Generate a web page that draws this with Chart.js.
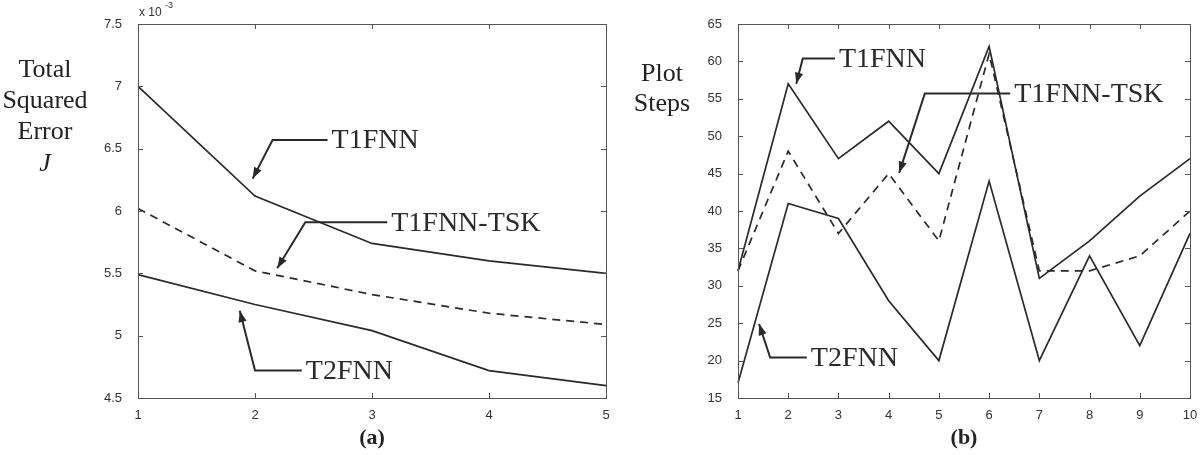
<!DOCTYPE html>
<html>
<head>
<meta charset="utf-8">
<script src="https://cdn.jsdelivr.net/npm/chart.js@4.4.1/dist/chart.umd.min.js"></script>
<style>
  body { margin: 0; background: #fff; width: 1204px; height: 455px; overflow: hidden; }
  .box { position: absolute; top: 0; height: 455px; }
  #boxA { left: 0; width: 620px; }
  #boxB { left: 620px; width: 584px; }
</style>
</head>
<body>
<div class="box" id="boxA"><canvas id="chartA"></canvas></div>
<div class="box" id="boxB"><canvas id="chartB"></canvas></div>
<script>
// (a) total squared error, values in units of 1e-3
const epochsA = ["1", "2", "3", "4", "5"];
const t1fnnA = [7.0, 6.12, 5.74, 5.6, 5.5];
const tskA = [6.02, 5.52, 5.33, 5.18, 5.09];
const t2fnnA = [5.49, 5.25, 5.04, 4.72, 4.6];

// (b) plot steps
const runsB = ["1", "2", "3", "4", "5", "6", "7", "8", "9", "10"];
const t1fnnB = [32, 57, 47, 52, 45, 62, 31, 36, 42, 47];
const tskB = [32, 48, 37, 45, 36, 61, 32, 32, 34, 40];
const t2fnnB = [17, 41, 39, 28, 20, 44, 20, 34, 22, 37];

const LINE = "#2a2a2a";
const SERIF = "'Liberation Serif', 'DejaVu Serif', serif";
const SANS = "'Liberation Sans', Arial, sans-serif";

// callouts: text + polyline (data coords: category index, value), last point gets arrowhead
const notesA = [
  { text: "T1FNN", path: [[1.62, 6.57], [1.15, 6.57], [0.98, 6.26]] },
  { text: "T1FNN-TSK", path: [[2.13, 5.91], [1.43, 5.91], [1.19, 5.54]] },
  { text: "T2FNN", path: [[1.40, 4.72], [1.0, 4.72], [0.87, 5.2]] }
];
const notesB = [
  { text: "T1FNN", path: [[1.93, 60.4], [1.29, 60.4], [1.16, 57.0]] },
  { text: "T1FNN-TSK", path: [[5.42, 55.7], [3.72, 55.7], [3.21, 45.1]] },
  { text: "T2FNN", path: [[1.37, 20.4], [0.64, 20.4], [0.42, 24.9]] }
];

const frame = {
  id: "frame",
  afterDatasetsDraw(chart, args, opts) {
    const { ctx, chartArea: a, scales: { x, y } } = chart;
    ctx.save();
    ctx.strokeStyle = "#555";
    ctx.lineWidth = 1;
    ctx.strokeRect(a.left + 0.5, a.top + 0.5, a.right - a.left, a.bottom - a.top);
    ctx.beginPath();
    x.ticks.forEach((t, i) => {
      const px = Math.round(x.getPixelForTick(i)) + 0.5;
      ctx.moveTo(px, a.bottom); ctx.lineTo(px, a.bottom - 5);
      ctx.moveTo(px, a.top); ctx.lineTo(px, a.top + 5);
    });
    y.ticks.forEach(t => {
      const py = Math.round(y.getPixelForValue(t.value)) + 0.5;
      ctx.moveTo(a.left, py); ctx.lineTo(a.left + 5, py);
      ctx.moveTo(a.right, py); ctx.lineTo(a.right - 5, py);
    });
    ctx.stroke();

    // callouts
    ctx.strokeStyle = LINE;
    ctx.fillStyle = LINE;
    ctx.lineWidth = 2;
    opts.notes.forEach(n => {
      const pts = n.path.map(p => [x.getPixelForValue(p[0]), y.getPixelForValue(p[1])]);
      ctx.beginPath();
      pts.forEach((p, i) => i ? ctx.lineTo(p[0], p[1]) : ctx.moveTo(p[0], p[1]));
      ctx.stroke();
      const tip = pts[pts.length - 1], prev = pts[pts.length - 2];
      const ang = Math.atan2(tip[1] - prev[1], tip[0] - prev[0]);
      ctx.beginPath();
      ctx.moveTo(tip[0], tip[1]);
      ctx.lineTo(tip[0] - 12 * Math.cos(ang - 0.35), tip[1] - 12 * Math.sin(ang - 0.35));
      ctx.lineTo(tip[0] - 12 * Math.cos(ang + 0.35), tip[1] - 12 * Math.sin(ang + 0.35));
      ctx.closePath();
      ctx.fill();
      ctx.font = "28px " + SERIF;
      ctx.textBaseline = "middle";
      ctx.textAlign = "left";
      ctx.fillText(n.text, pts[0][0] + 4, pts[0][1] + 1);
    });

    // axis title lines, sub label, exponent
    ctx.fillStyle = "#222";
    ctx.textAlign = "center";
    opts.title.forEach(t => {
      ctx.font = (t.italic ? "italic " : "") + "26px " + SERIF;
      ctx.fillText(t.text, t.x, t.y);
    });
    ctx.font = "bold 22px " + SERIF;
    ctx.fillText(opts.caption, (a.left + a.right) / 2, 438);
    if (opts.exponent) {
      ctx.font = "12px " + SANS;
      ctx.fillStyle = "#333";
      ctx.textAlign = "left";
      ctx.fillText("x 10", a.left + 1, a.top - 11);
      ctx.font = "9px " + SANS;
      ctx.fillText("-3", a.left + 27, a.top - 18);
    }
    ctx.restore();
  }
};

function series(data, dashed) {
  return {
    data: data,
    borderColor: LINE,
    borderWidth: 1.7,
    borderDash: dashed ? [8, 6] : [],
    pointRadius: 0,
    tension: 0,
    fill: false
  };
}

function makeChart(id, labels, sets, yMin, yMax, step, tickFmt, plotOpts) {
  return new Chart(document.getElementById(id), {
    type: "line",
    data: { labels: labels, datasets: sets },
    plugins: [frame],
    options: {
      responsive: true,
      maintainAspectRatio: false,
      animation: false,
      layout: { padding: { top: 24, right: 14, left: 0, bottom: 0 } },
      plugins: { legend: { display: false }, tooltip: { enabled: false }, frame: plotOpts },
      scales: {
        x: {
          type: "category",
          offset: false,
          grid: { display: false },
          border: { display: false },
          ticks: { color: "#333", font: { family: SANS, size: 13 }, padding: 2, maxRotation: 0 },
          afterFit: s => { s.height = 57; }
        },
        y: {
          min: yMin, max: yMax,
          grid: { display: false },
          border: { display: false },
          ticks: { stepSize: step, color: "#333", font: { family: SANS, size: 13 }, padding: 8, callback: tickFmt },
          afterFit: s => { s.width = plotOpts.yWidth; }
        }
      }
    }
  });
}

makeChart("chartA", epochsA,
  [series(t1fnnA, false), series(tskA, true), series(t2fnnA, false)],
  4.5, 7.5, 0.5, v => String(v),
  {
    yWidth: 138, notes: notesA, caption: "(a)", exponent: true,
    title: [
      { text: "Total", x: 45, y: 70 },
      { text: "Squared", x: 45, y: 101 },
      { text: "Error", x: 45, y: 132 },
      { text: "J", x: 45, y: 164, italic: true }
    ]
  });

makeChart("chartB", runsB,
  [series(t1fnnB, false), series(tskB, true), series(t2fnnB, false)],
  15, 65, 5, v => String(v),
  {
    yWidth: 118, notes: notesB, caption: "(b)", exponent: false,
    title: [
      { text: "Plot", x: 42, y: 74 },
      { text: "Steps", x: 42, y: 104 }
    ]
  });
</script>
</body>
</html>
